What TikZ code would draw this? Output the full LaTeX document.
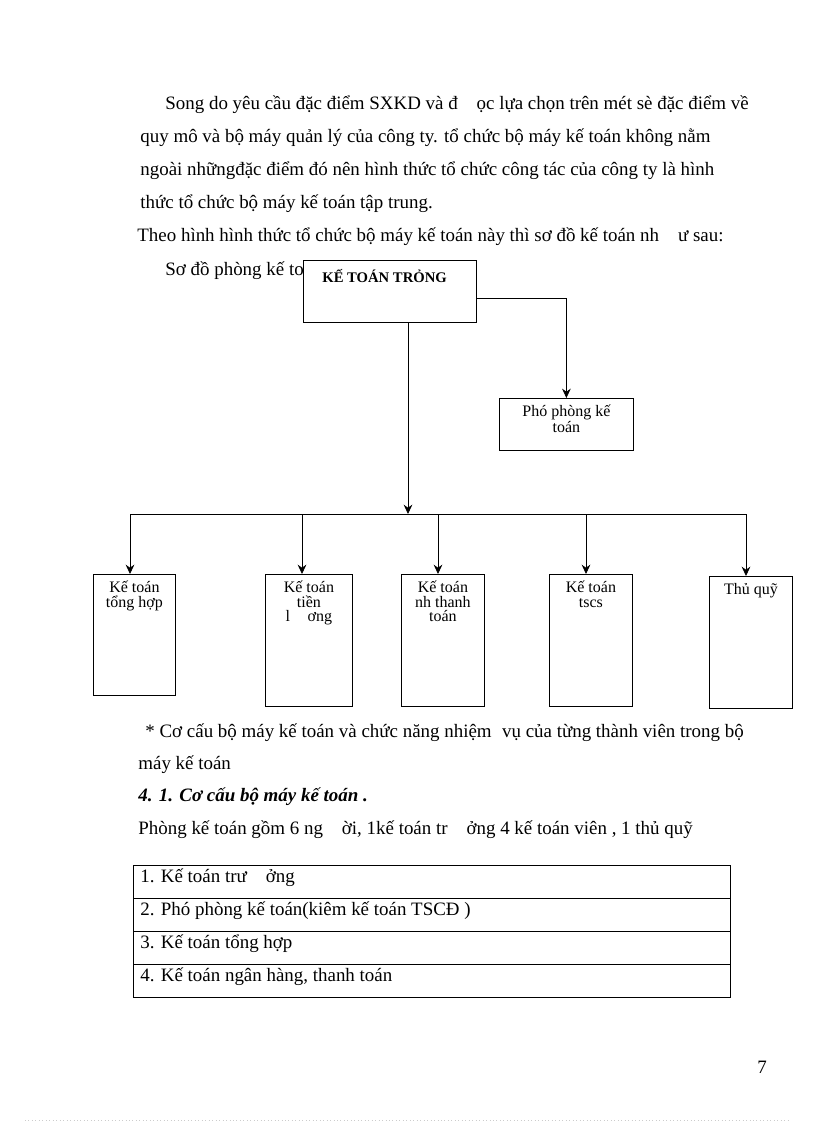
\documentclass[tikz,border=0pt]{standalone}
\usepackage{fontspec}
\setmainfont{Liberation Serif}
\usetikzlibrary{arrows.meta,positioning}

\begin{document}
\begin{tikzpicture}[x=0.75pt,y=-0.75pt,>={Stealth[length=7pt,width=6.5pt]},line width=0.6pt,
  txt/.style={anchor=base west,inner sep=0pt,font=\fontsize{14.2}{16}\selectfont},
  box/.style={draw,fill=white,anchor=north west,inner sep=0pt},
  lbl/.style={align=center,inner sep=0pt,font=\fontsize{12}{10.8}\selectfont}]
  \useasboundingbox (0,0) rectangle (816,1123);
  % text above the chart
  \node[txt] (p1) at (165,110) {Song do yêu cầu đặc điểm SXKD và đ\hspace{1em}ọc lựa chọn trên mét sè đặc điểm về};
  \node[txt] (p2) at (140,143) {quy mô và bộ máy quản lý của công ty. tổ chức bộ máy kế toán không nằm};
  \node[txt] (p3) at (140,176) {ngoài nhữngđặc điểm đó nên hình thức tổ chức công tác của công ty là hình};
  \node[txt] (p4) at (140,209) {thức tổ chức bộ máy kế toán tập trung.};
  \node[txt] (p5) at (137,242) {Theo hình hình thức tổ chức bộ máy kế toán này thì sơ đồ kế toán nh\hspace{1em}ư sau:};
  \node[txt] (p6) at (165,275) {Sơ đồ phòng kế to};
  % chart
  \node[box,minimum width=129.75pt,minimum height=46.5pt] (kttruong) at (303,260) {};
  \node[lbl,font=\fontsize{11}{12}\bfseries,below=7pt of kttruong.north,xshift=-4pt] {KẾ TOÁN TRỎNG};
  \node[box,minimum width=100.5pt,minimum height=39pt] (phophong) at (499,398) {};
  \node[lbl,below=5pt of phophong.north] {Phó phòng kế\\toán};
  \draw[->] ([yshift=-5.3pt]kttruong.east) -| (phophong.north);
  \coordinate (bus) at (408,514);
  \draw[->] (kttruong.south -| bus) -- (bus);
  \foreach \nm/\xl/\xr/\yt/\yb/\xa/\txt in {
      ktth/93/175/574/695/130/{Kế toán\\tổng hợp},
      kttl/265/352/574/706/302/{Kế toán\\tiền\\l\hspace{1.1em}ơng},
      kttt/401/484/574/706/438/{Kế toán\\nh thanh\\toán},
      kttscs/549/632/574/706/586/{Kế toán\\tscs},
      thuquy/709/792/576/708/746/{Thủ quỹ}}{
    \node[box,minimum width={(\xr-\xl)*0.75pt},minimum height={(\yb-\yt)*0.75pt}] (\nm) at (\xl,\yt) {};
    \node[lbl,below=5pt of \nm.north] {\txt};
    \coordinate (a\nm) at (\xa,514);
    \draw[->] (a\nm) -- (a\nm |- \nm.north);
  }
  \draw (aktth) -- (athuquy);
  % text below the chart
  \node[txt] (q1) at (145,737) {* Cơ cấu bộ máy kế toán và chức năng nhiệm\hspace{0.3em} vụ của từng thành viên trong bộ};
  \node[txt] (q2) at (138,769) {máy kế toán};
  \node[txt,font=\fontsize{14.2}{16}\selectfont\bfseries\itshape] (q3) at (138,801) {4. 1. Cơ cấu bộ máy kế toán .};
  \node[txt] (q4) at (138,834) {Phòng kế toán gồm 6 ng\hspace{1em}ời, 1kế toán tr\hspace{1em}ởng 4 kế toán viên , 1 thủ quỹ};
  % table
  \foreach \i/\txt in {0/{1. Kế toán trư\hspace{1em}ởng},1/{2. Phó phòng kế toán(kiêm kế toán TSCĐ )},
      2/{3. Kế toán tổng hợp},3/{4. Kế toán ngân hàng, thanh toán}}{
    \node[box,fill=none,minimum width=447.75pt,minimum height=24.75pt] (row\i) at (133,865+33*\i) {};
    \node[txt] at (140,882+33*\i) {\txt};
  }
  \node[txt] (pg) at (757,1073) {7};
  \draw[gray!40,dotted] (25,1120) -- (790,1120);
\end{tikzpicture}
\end{document}
